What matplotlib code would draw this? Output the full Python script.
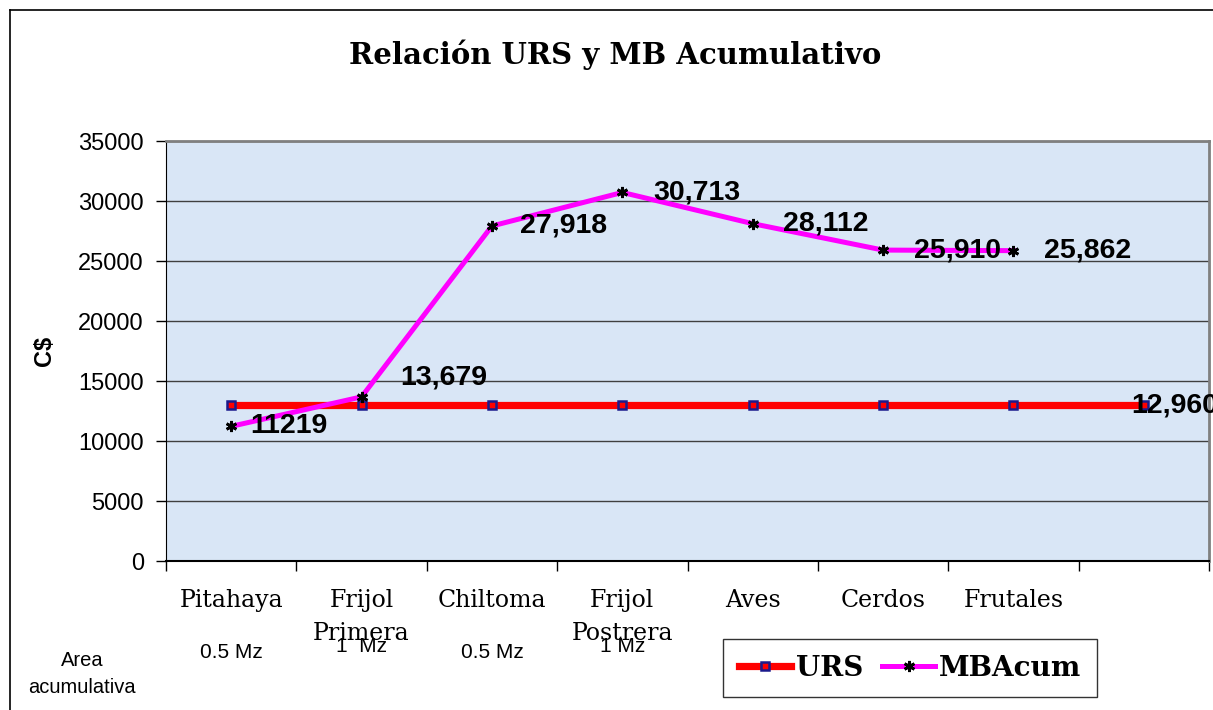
import matplotlib
matplotlib.use("Agg")
import matplotlib.pyplot as plt
import matplotlib.transforms as mtransforms
from matplotlib.lines import Line2D

cultivos = ["Pitahaya", "Frijol\nPrimera", "Chiltoma", "Frijol\nPostrera",
            "Aves", "Cerdos", "Frutales", ""]
urs = [12960, 12960, 12960, 12960, 12960, 12960, 12960, 12960]
mbacum = [11219, 13679, 27918, 30713, 28112, 25910, 25862]
mb_labels = ["11219", "13,679", "27,918", "30,713", "28,112", "25,910", "25,862"]
urs_label = "12,960"
areas = ["0.5 Mz", "1  Mz", "0.5 Mz", "1 Mz"]

fig = plt.figure(figsize=(12.13, 7.10), dpi=100)
ax = fig.add_axes([166/1213, 1-561/710, (1209-166)/1213, (561-141)/710])
ax.set_facecolor("#d9e6f6")

xs_urs = [i + 0.5 for i in range(len(urs))]
xs_mb = [i + 0.5 for i in range(len(mbacum))]

ax.plot(xs_urs, urs, color="red", lw=5.2, marker="s", ms=6,
        mfc="red", mec="#1a1a8c", mew=1.8, label="URS", zorder=3)
ax.plot(xs_mb, mbacum, color="#ff00ff", lw=3.6, marker=(6, 2, 0), ms=8,
        mec="black", mew=2, label="MBAcum", zorder=4)

# etiquetas de datos
offsets = [(14, 0), (28, 14), (20, 0), (22, 0), (22, 0), (22, 0), (22, 0)]
for x, y, t, (dx, dy) in zip(xs_mb, mbacum, mb_labels, offsets):
    ax.annotate(t, (x, y), xytext=(dx, dy), textcoords="offset points",
                ha="left", va="center", fontsize=20.5, fontweight="bold",
                family="Liberation Sans", zorder=6, annotation_clip=False)
ax.annotate(urs_label, (xs_urs[-1], urs[-1]), xytext=(-9, 0),
            textcoords="offset points", ha="left", va="center", fontsize=20.5,
            fontweight="bold", family="Liberation Sans", zorder=6,
            annotation_clip=False)

ax.set_xlim(0, len(cultivos))
ax.set_ylim(0, 35000)
ax.set_yticks(range(0, 35001, 5000))
ax.yaxis.grid(True, color="#404040", lw=1)
ax.set_axisbelow(True)
ax.tick_params(axis="y", labelsize=17, length=7, width=1, pad=9)
for lab in ax.get_yticklabels():
    lab.set_family("Liberation Sans")

ax.set_xticks(range(0, len(cultivos) + 1))
ax.set_xticklabels([])
ax.set_xticks(xs_urs, minor=True)
ax.set_xticklabels(cultivos, minor=True, family="DejaVu Serif", fontsize=17,
                   linespacing=1.55, va="top")
ax.tick_params(axis="x", which="major", length=7, width=1)
ax.tick_params(axis="x", which="minor", length=0, pad=20)

ax.spines["left"].set_color("black")
ax.spines["bottom"].set_color("black")
ax.spines["bottom"].set_linewidth(1.5)
ax.spines["top"].set_color("#808080")
ax.spines["top"].set_linewidth(2)
ax.spines["right"].set_color("#808080")
ax.spines["right"].set_linewidth(2)

ax.set_ylabel("C$", fontsize=17, fontweight="bold", family="Liberation Sans")
ax.yaxis.set_label_coords(-110/1043, 0.5)

fig.text(615/1213, 1-55/710, "Relación URS y MB Acumulativo", ha="center",
         va="center", fontsize=21, fontweight="bold", family="DejaVu Serif")

# area acumulativa
fig.text(82/1213, 1-674/710, "Area\nacumulativa", ha="center", va="center",
         fontsize=14.5, family="Liberation Sans", linespacing=1.55)
tr = mtransforms.blended_transform_factory(ax.transData, fig.transFigure)
area_y = [652, 647, 652, 647]
for i, (t, yy) in enumerate(zip(areas, area_y)):
    ax.text(i + 0.5, 1 - yy/710, t, transform=tr, ha="center", va="center",
            fontsize=15, family="Liberation Sans", zorder=7)

leg = ax.legend(loc="center", bbox_to_anchor=(910/1213, 1-668/710),
                bbox_transform=fig.transFigure, ncol=2, frameon=True,
                fancybox=False, edgecolor="black", handlelength=1.9,
                columnspacing=0.7, handletextpad=0.15, borderpad=0.55,
                borderaxespad=0,
                prop={"family": "DejaVu Serif", "weight": "bold", "size": 20})
leg.get_frame().set_linewidth(1)
leg.get_frame().set_facecolor("white")

# marco de la figura
fig.add_artist(Line2D([10/1213, 1], [1-10/710, 1-10/710], color="black",
                      lw=1.2, transform=fig.transFigure))
fig.add_artist(Line2D([10/1213, 10/1213], [0, 1-10/710], color="black",
                      lw=1.2, transform=fig.transFigure))

fig.savefig("out.png", dpi=100)
